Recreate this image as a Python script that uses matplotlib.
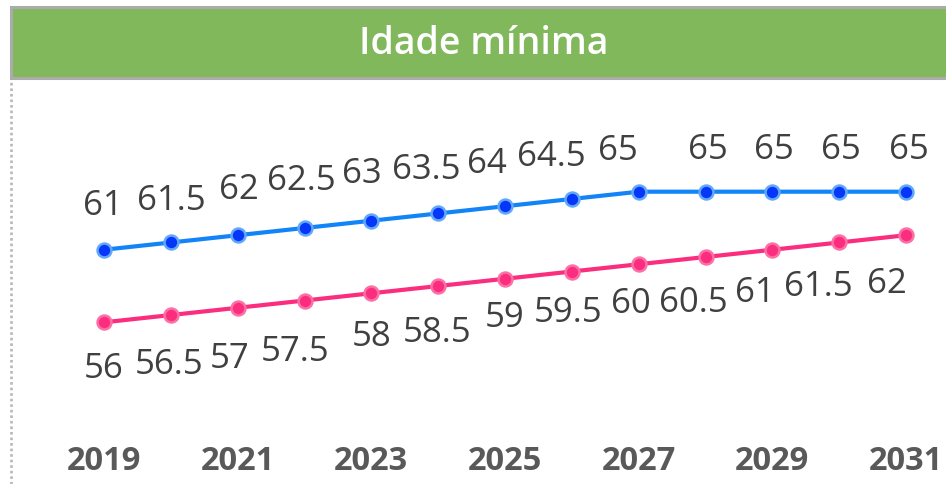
import matplotlib
matplotlib.use("Agg")
import matplotlib.pyplot as plt
from matplotlib.patches import Rectangle
from matplotlib.lines import Line2D

years = [2019, 2020, 2021, 2022, 2023, 2024, 2025, 2026, 2027, 2028, 2029, 2030, 2031]
homens = [61, 61.5, 62, 62.5, 63, 63.5, 64, 64.5, 65, 65, 65, 65, 65]
mulheres = [56, 56.5, 57, 57.5, 58, 58.5, 59, 59.5, 60, 60.5, 61, 61.5, 62]
tick_years = [2019, 2021, 2023, 2025, 2027, 2029, 2031]
title = "Idade mínima"

# label placement offsets (pixels) to mimic the reference's anti-overlap layout
blue_dx = [-1, 0, 1, -3, -10, -12, -18, -21, -21, 2, 2, 2, 3]
blue_dy = [45, 42, 46, 48, 48, 44, 43, 43, 42, 43, 43, 43, 43]
pink_dx = [0, -2, -8, -9, 0, -1, 0, -4, -8, -12, -17, -21, -19]
pink_dy = [46, 49, 50, 50, 43, 46, 38, 40, 39, 45, 42, 44, 48]

W, H = 946, 485
fig = plt.figure(figsize=(W / 100, H / 100), dpi=100)
fig.patch.set_facecolor("white")

# axes in pixel geometry
ax_left, ax_right, ax_top, ax_bottom = 11, 946, 80, 432
ax = fig.add_axes([ax_left / W, 1 - ax_bottom / H, (ax_right - ax_left) / W, (ax_bottom - ax_top) / H])
ax.set_facecolor("none")

px_per_year = (906 - 104) / 12
x0 = 2019 - (104 - ax_left) / px_per_year
x1 = 2031 + (ax_right - 906) / px_per_year
ax.set_xlim(x0, x1)
px_per_unit = (323.3 - 192.7) / 9
y_top = 65 + (192.7 - ax_top) / px_per_unit
y_bot = 65 - (ax_bottom - 192.7) / px_per_unit
ax.set_ylim(y_bot, y_top)

blue_line = "#1284F8"
blue_mark = "#0636F8"
pink = "#FB2D7E"

ax.plot(years, homens, color=blue_line, lw=3.0, marker="o", ms=10,
        markerfacecolor=blue_mark, markeredgecolor="#62A8FA", markeredgewidth=1.8, zorder=3)
ax.plot(years, mulheres, color=pink, lw=3.0, marker="o", ms=10,
        markerfacecolor=pink, markeredgecolor="#FD6FA5", markeredgewidth=1.8, zorder=3)

lab_font = dict(family=["Open Sans", "DejaVu Sans"], size=25, color="#404040")
for x, v, dx, dy in zip(years, homens, blue_dx, blue_dy):
    ax.annotate(f"{v:g}", (x, v), xytext=(dx, dy), textcoords="offset pixels",
                ha="center", va="center", **lab_font)
for x, v, dx, dy in zip(years, mulheres, pink_dx, pink_dy):
    ax.annotate(f"{v:g}", (x, v), xytext=(dx, -dy), textcoords="offset pixels",
                ha="center", va="center", **lab_font)

ax.set_xticks(tick_years)
ax.set_xticklabels([str(t) for t in tick_years], family=["Open Sans", "DejaVu Sans"],
                   fontsize=23.5, fontweight="bold", color="#595959")
ax.tick_params(axis="x", length=0, pad=9)
ax.set_yticks([])
for s in ax.spines.values():
    s.set_visible(False)

# title bar
fig.add_artist(Rectangle((11.4 / W, 1 - 78.6 / H), (W - 11.4 + 5) / W, 71 / H, transform=fig.transFigure,
                         facecolor="#82B85C", edgecolor="#ABABAB", linewidth=2.2, zorder=5))
fig.text(484 / W, 1 - 44 / H, title, ha="center", va="center", color="white",
         family=["Open Sans", "DejaVu Sans"], fontsize=27, fontweight="semibold", zorder=6)

# dotted left border
fig.add_artist(Line2D([11.3 / W, 11.3 / W], [0, 1 - 83 / H], transform=fig.transFigure,
                      color="#B8B8B8", lw=1.9, linestyle=(0, (1, 1.1)), dash_capstyle="butt"))

fig.savefig("out.png", dpi=100)
